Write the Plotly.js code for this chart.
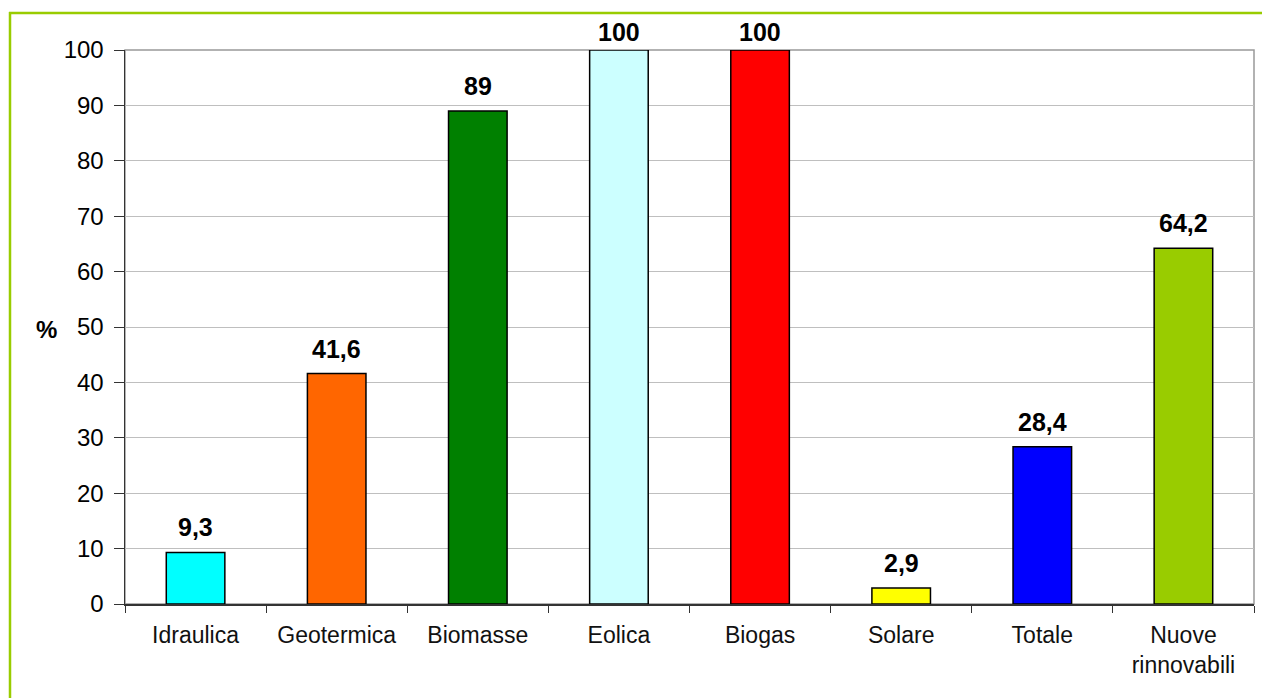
<!DOCTYPE html>
<html>
<head>
<meta charset="utf-8">
<script src="https://cdn.plot.ly/plotly-3.0.1.min.js"></script>
<style>
html,body{margin:0;padding:0;background:#fff;}
#chart{width:1262px;height:698px;}
</style>
</head>
<body>
<div id="chart"></div>
<script>
const categories = ["Idraulica", "Geotermica", "Biomasse", "Eolica", "Biogas", "Solare", "Totale", "Nuove<br>rinnovabili"];
const values = [9.3, 41.6, 89, 100, 100, 2.9, 28.4, 64.2];
const barColors = ["#00FFFF", "#FF6600", "#008000", "#CCFFFF", "#FF0000", "#FFFF00", "#0000FF", "#99CC00"];
const yTicks = [0, 10, 20, 30, 40, 50, 60, 70, 80, 90, 100];

const labels = values.map(v => String(v).replace(".", ","));

const trace = {
  type: "bar",
  x: categories,
  y: values,
  marker: {color: barColors, line: {color: "#000", width: 1.5}},
  width: 0.415,
  hoverinfo: "none"
};

const W = 1262, H = 698, L = 125, R = 8, T = 50, B = 94;
const pw = W - L - R, ph = H - T - B;
const px = v => (v - L) / pw;
const py = v => (H - B - v) / ph;

const valueLabels = categories.map((c, i) => ({
  text: "<b>" + labels[i] + "</b>",
  x: c, y: values[i], xref: "x", yref: "y",
  xanchor: "center", yanchor: "bottom",
  yshift: values[i] >= 100 ? 2 : 9,
  showarrow: false,
  font: {size: 25, color: "#000"}
}));

const layout = {
  width: W, height: H,
  margin: {l: L, r: R, t: T, b: B},
  paper_bgcolor: "#fff",
  plot_bgcolor: "#fff",
  showlegend: false,
  font: {family: "Arial, Liberation Sans, sans-serif", color: "#000"},
  xaxis: {
    type: "category",
    tickson: "boundaries",
    ticks: "outside",
    ticklen: 7,
    tickcolor: "#333",
    showline: true,
    linecolor: "#333",
    linewidth: 1.5,
    showgrid: false,
    tickfont: {size: 23, color: "#111"},
    ticklabelstandoff: 10,
    fixedrange: true
  },
  yaxis: {
    range: [0, 100],
    tickvals: yTicks,
    ticks: "outside",
    ticklen: 10,
    tickcolor: "#333",
    showline: true,
    linecolor: "#333",
    linewidth: 1.5,
    showgrid: true,
    gridcolor: "#BFBFBF",
    gridwidth: 1,
    zeroline: false,
    tickfont: {size: 24, color: "#000"},
    ticklabelstandoff: 5,
    fixedrange: true
  },
  shapes: [
    {type: "rect", xref: "paper", yref: "paper", x0: 0, x1: 1, y0: 0, y1: 1,
     line: {color: "#999", width: 1.5}, layer: "below"},
    {type: "line", xref: "paper", yref: "paper", x0: px(10), x1: px(10), y0: py(12), y1: -0.3,
     line: {color: "#99CC00", width: 2.5}},
    {type: "line", xref: "paper", yref: "paper", x0: px(9), x1: 1.2, y0: py(13), y1: py(13),
     line: {color: "#99CC00", width: 2.5}}
  ],
  annotations: valueLabels.concat([
    {text: "<b>%</b>", xref: "paper", yref: "paper", x: px(46), y: py(329),
     xanchor: "center", yanchor: "middle", showarrow: false,
     font: {size: 24, color: "#000"}}
  ])
};

Plotly.newPlot("chart", [trace], layout, {displayModeBar: false, staticPlot: true});
</script>
</body>
</html>
